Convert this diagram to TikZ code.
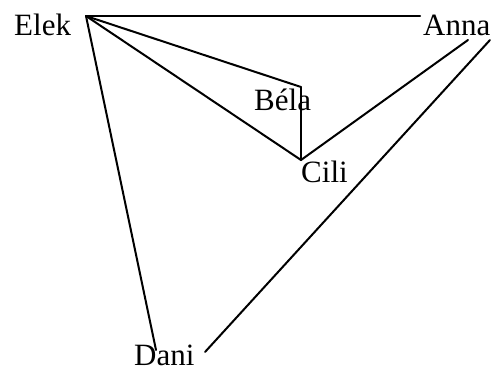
\documentclass[tikz,border=0pt]{standalone}
\usepackage{fontspec}
\setmainfont{Liberation Serif}
\begin{document}
\begin{tikzpicture}[x=1bp,y=-1bp,
  lbl/.style={anchor=base west,inner sep=0pt,font=\fontsize{31bp}{36bp}\selectfont},
  edge/.style={line width=2bp,line cap=round,line join=round}]
\useasboundingbox (0,0) rectangle (495,371);
\node[lbl] (elek) at (14,35) {Elek};
\node[lbl] (anna) at (423,35) {Anna};
\node[lbl] (bela) at (254,110) {Béla};
\node[lbl] (cili) at (301,182) {Cili};
\node[lbl] (dani) at (134,365) {Dani};
\coordinate (E) at (86,16);
\coordinate (A1) at (420,16);
\coordinate (A2) at (468,40);
\coordinate (A3) at (490,40);
\coordinate (B) at (301,87);
\coordinate (C) at (301,160);
\coordinate (D1) at (156,350);
\coordinate (D2) at (205,352);
\draw[edge] (E) -- (A1);
\draw[edge] (E) -- (B);
\draw[edge] (E) -- (C);
\draw[edge] (E) -- (D1);
\draw[edge] (B) -- (C);
\draw[edge] (A2) -- (C);
\draw[edge] (A3) -- (D2);
\end{tikzpicture}
\end{document}
